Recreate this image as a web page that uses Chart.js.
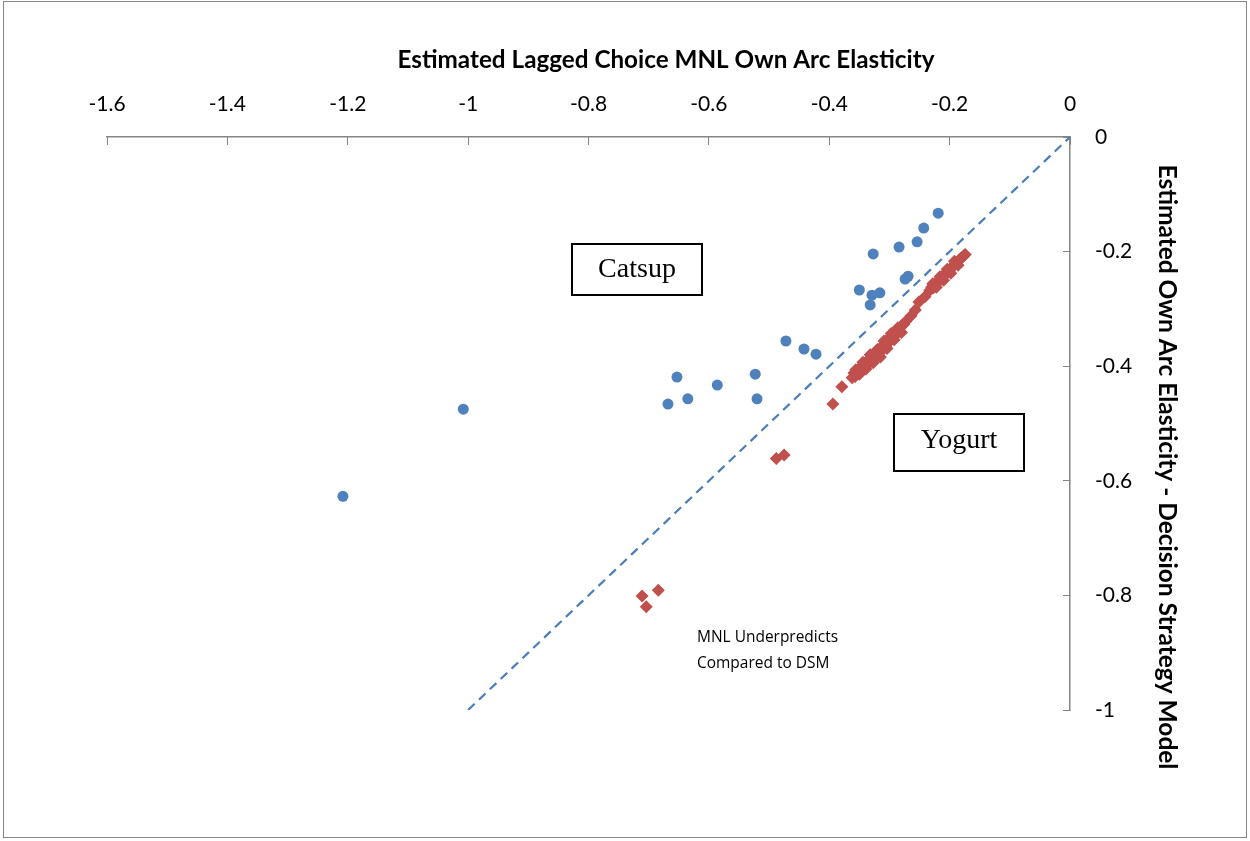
<!DOCTYPE html>
<html>
<head>
<meta charset="utf-8">
<title>Own Arc Elasticity</title>
<script src="https://cdn.jsdelivr.net/npm/chart.js@4.4.1/dist/chart.umd.min.js"></script>
<style>
  html, body { margin: 0; padding: 0; background: #fff; }
  #wrap { width: 1250px; height: 841px; }
</style>
</head>
<body>
<div id="wrap"><canvas id="elasticityChart" width="1250" height="841"></canvas></div>
<script>
// ===== Tick labels =====
const xTickLabels = ["-1.6", "-1.4", "-1.2", "-1", "-0.8", "-0.6", "-0.4", "-0.2", "0"];
const yTickLabels = ["-1", "-0.8", "-0.6", "-0.4", "-0.2", "0"];

// ===== Catsup: MNL elasticity (x) vs DSM elasticity (y) =====
const catsupMNL = [-1.208, -1.008, -0.668, -0.653, -0.635, -0.586, -0.523, -0.520,
  -0.472, -0.442, -0.422, -0.350, -0.332, -0.329, -0.316, -0.327, -0.284, -0.254,
  -0.243, -0.219, -0.274, -0.269];
const catsupDSM = [-0.627, -0.475, -0.466, -0.419, -0.457, -0.433, -0.414, -0.457,
  -0.356, -0.370, -0.379, -0.267, -0.293, -0.276, -0.272, -0.204, -0.192, -0.183,
  -0.159, -0.133, -0.248, -0.243];

// ===== Yogurt =====
const yogurtMNL = [-0.711, -0.704, -0.684, -0.488, -0.475, -0.394, -0.379,
  -0.362, -0.359, -0.357, -0.354, -0.351, -0.349, -0.346, -0.343, -0.341, -0.338,
  -0.336, -0.333, -0.331, -0.328, -0.326, -0.323, -0.321, -0.318, -0.316, -0.313,
  -0.311, -0.308, -0.306, -0.303, -0.301, -0.298, -0.296, -0.293, -0.290, -0.288,
  -0.285, -0.282, -0.279, -0.276, -0.273,
  -0.356, -0.350, -0.344, -0.339, -0.332, -0.327, -0.320, -0.315, -0.309, -0.304,
  -0.297, -0.292, -0.286, -0.280,
  -0.264, -0.257, -0.251, -0.241,
  -0.233, -0.230, -0.227, -0.224, -0.221, -0.218, -0.215, -0.212, -0.209, -0.206,
  -0.203, -0.200, -0.197, -0.194, -0.191, -0.188, -0.185, -0.182, -0.179, -0.176, -0.174,
  -0.228, -0.222, -0.216, -0.210, -0.204, -0.198, -0.192, -0.186];
const yogurtDSM = [-0.801, -0.820, -0.791, -0.561, -0.555, -0.466, -0.436,
  -0.420, -0.412, -0.418, -0.409, -0.405, -0.411, -0.400, -0.404, -0.397, -0.398,
  -0.390, -0.394, -0.385, -0.388, -0.383, -0.378, -0.382, -0.372, -0.376, -0.366,
  -0.371, -0.362, -0.365, -0.353, -0.358, -0.350, -0.352, -0.344, -0.346, -0.338,
  -0.340, -0.333, -0.329, -0.327, -0.322,
  -0.406, -0.414, -0.393, -0.405, -0.380, -0.394, -0.371, -0.384, -0.356, -0.369,
  -0.343, -0.354, -0.333, -0.341,
  -0.312, -0.302, -0.288, -0.279,
  -0.268, -0.262, -0.263, -0.257, -0.255, -0.250, -0.249, -0.243, -0.242, -0.237,
  -0.236, -0.231, -0.229, -0.225, -0.222, -0.219, -0.216, -0.212, -0.210, -0.207, -0.205,
  -0.256, -0.262, -0.244, -0.250, -0.231, -0.238, -0.217, -0.224];

// 45 degree reference line
const diagX = [-1, 0];
const diagY = [-1, 0];

const toPoints = (xs, ys) => xs.map((x, i) => ({ x: x, y: ys[i] }));

const AXIS_GRAY = "#868686";

// shrink/grow a font until the text spans the wanted width
function fitFont(ctx, text, weight, family, width) {
  ctx.font = weight + " 20px " + family;
  const size = 20 * width / ctx.measureText(text).width;
  return weight + " " + size.toFixed(2) + "px " + family;
}

const decorations = {
  id: "decorations",
  beforeDraw(chart) {
    const ctx = chart.ctx;
    ctx.save();
    ctx.fillStyle = "#fff";
    ctx.fillRect(0, 0, chart.width, chart.height);
    ctx.strokeStyle = AXIS_GRAY;
    ctx.lineWidth = 1;
    ctx.strokeRect(3.5, 1.5, 1243, 836);
    ctx.restore();
  },
  afterDraw(chart) {
    const ctx = chart.ctx;
    ctx.save();
    ctx.fillStyle = "#000";
    ctx.textBaseline = "middle";

    // axis titles
    const xTitle = "Estimated Lagged Choice MNL Own Arc Elasticity";
    ctx.font = fitFont(ctx, xTitle, "bold", "Lato", 537);
    ctx.textAlign = "center";
    ctx.fillText(xTitle, 666, 60);

    const yTitle = "Estimated Own Arc Elasticity - Decision Strategy Model";
    ctx.save();
    ctx.translate(1167, 467);
    ctx.rotate(Math.PI / 2);
    ctx.font = fitFont(ctx, yTitle, "bold", "Lato", 605);
    ctx.fillText(yTitle, 0, 0);
    ctx.restore();

    // boxed product labels
    ctx.strokeStyle = "#000";
    ctx.lineWidth = 2;
    ctx.strokeRect(572, 244, 130, 51);
    ctx.strokeRect(894, 414, 130, 57);
    ctx.font = "28px 'Liberation Serif'";
    ctx.fillText("Catsup", 637, 270);
    ctx.fillText("Yogurt", 959, 441);

    // note
    ctx.textAlign = "left";
    ctx.font = fitFont(ctx, "MNL Underpredicts", "normal", "'Open Sans'", 141);
    ctx.fillText("MNL Underpredicts", 697, 638);
    ctx.fillText("Compared to DSM", 697, 664);
    ctx.restore();
  },
};

const ctxChart = document.getElementById("elasticityChart");
new Chart(ctxChart, {
  type: "scatter",
  data: {
    datasets: [
      {
        label: "Catsup",
        data: toPoints(catsupMNL, catsupDSM),
        pointStyle: "circle",
        pointRadius: 5.5,
        borderWidth: 0,
        backgroundColor: "#4f81bd",
        borderColor: "#4f81bd",
      },
      {
        label: "Yogurt",
        data: toPoints(yogurtMNL, yogurtDSM),
        pointStyle: "rectRot",
        pointRadius: 6.5,
        borderWidth: 0,
        backgroundColor: "#c0504d",
        borderColor: "#c0504d",
      },
      {
        type: "line",
        label: "Equal elasticity",
        data: toPoints(diagX, diagY),
        borderColor: "#4a7ebb",
        borderWidth: 2.2,
        borderDash: [9, 6],
        pointRadius: 0,
        fill: false,
      },
    ],
  },
  options: {
    responsive: false,
    animation: false,
    devicePixelRatio: 1,
    layout: { padding: { left: 107, right: 0, top: 0, bottom: 131 } },
    plugins: {
      legend: { display: false },
      tooltip: { enabled: false },
    },
    scales: {
      x: {
        type: "linear",
        position: "top",
        min: -1.6,
        max: 0,
        afterFit: (s) => { s.height = 137; },
        ticks: {
          stepSize: 0.2,
          autoSkip: false,
          maxRotation: 0,
          padding: 28,
          color: "#000",
          font: { family: "Lato", size: 21 },
          callback: (v, i) => xTickLabels[i],
        },
        grid: { drawOnChartArea: false, drawTicks: true, tickLength: -8, color: AXIS_GRAY },
        border: { display: true, color: AXIS_GRAY, width: 1.5 },
      },
      y: {
        type: "linear",
        position: "right",
        min: -1,
        max: 0,
        afterFit: (s) => { s.width = 180; },
        ticks: {
          stepSize: 0.2,
          autoSkip: false,
          padding: 32,
          color: "#000",
          font: { family: "Lato", size: 21 },
          callback: (v, i) => yTickLabels[i],
        },
        grid: { drawOnChartArea: false, drawTicks: true, tickLength: -7, color: AXIS_GRAY },
        border: { display: true, color: AXIS_GRAY, width: 1.5 },
      },
    },
  },
  plugins: [decorations],
});
</script>
</body>
</html>
